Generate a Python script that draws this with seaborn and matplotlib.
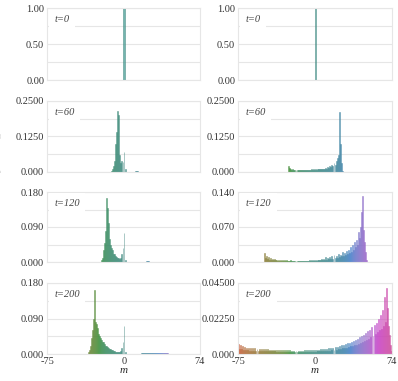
import numpy as np
import pandas as pd
import matplotlib
matplotlib.use("Agg")
import matplotlib.pyplot as plt
import seaborn as sns

sns.set_theme(style="whitegrid")
plt.rcParams['font.family'] = ['Liberation Serif', 'DejaVu Serif']

# ---- data: probability of magnetization m at several times ----
# left column (t=0, 60, 120, 200)
m_l0 = [0]
p_l0 = [1.0]

m_l60 = list(range(-12, 2)) + [11, 12, 13]
p_l60 = [0.005, 0.01, 0.02, 0.04, 0.10, 0.14, 0.215, 0.20, 0.06, 0.03,
         0.04, 0.035, 0.07, 0.01, 0.003, 0.003, 0.003]

m_l120 = list(range(-22, 2)) + [22, 23, 24]
p_l120 = [0.005, 0.01, 0.03, 0.05, 0.08, 0.165, 0.14, 0.10, 0.06, 0.045,
          0.035, 0.03, 0.02, 0.02, 0.015, 0.012, 0.01, 0.01, 0.008, 0.01,
          0.02, 0.035, 0.075, 0.005, 0.003, 0.003, 0.003]

m_l200 = list(range(-35, 2)) + list(range(17, 44))
p_l200 = [0.005, 0.01, 0.02, 0.04, 0.06, 0.09, 0.163, 0.08, 0.075, 0.065,
          0.05, 0.045, 0.04, 0.035, 0.03, 0.03, 0.025, 0.02, 0.02, 0.018,
          0.015, 0.013, 0.012, 0.01, 0.01, 0.008, 0.007, 0.006, 0.005, 0.004,
          0.004, 0.005, 0.008, 0.015, 0.03, 0.07, 0.005,
          0.002, 0.002, 0.002, 0.002, 0.002, 0.002, 0.002, 0.002, 0.002,
          0.002, 0.002, 0.002, 0.002, 0.002, 0.002, 0.002, 0.002, 0.002,
          0.002, 0.002, 0.002, 0.002, 0.002, 0.002, 0.002, 0.002, 0.002]

# right column (t=0, 60, 120, 200)
m_r0 = [0]
p_r0 = [1.0]

m_r60 = list(range(-26, 27))
p_r60 = [0.02, 0.015, 0.01, 0.008, 0.009, 0.007, 0.008, 0.006, 0.008, 0.007,
         0.008, 0.007, 0.008, 0.007, 0.008, 0.007, 0.008, 0.008, 0.008, 0.007,
         0.008, 0.008, 0.009, 0.008, 0.009, 0.008, 0.009, 0.008, 0.009, 0.009,
         0.010, 0.009, 0.011, 0.010, 0.012, 0.010, 0.015, 0.012, 0.018, 0.014,
         0.020, 0.016, 0.025, 0.020, 0.030, 0.025, 0.040, 0.050, 0.060, 0.210,
         0.100, 0.030, 0.005]

m_r120 = list(range(-50, 51))
p_r120 = [0.018, 0.008, 0.012, 0.006, 0.010, 0.005, 0.008, 0.005, 0.007, 0.004,
          0.006, 0.004, 0.005, 0.003, 0.005, 0.003, 0.004, 0.003, 0.004, 0.003,
          0.004, 0.003, 0.004, 0.003, 0.003, 0.003, 0.004, 0.002, 0.003, 0.002,
          0.003, 0.002, 0.003, 0.002, 0.003, 0.002, 0.003, 0.002, 0.003, 0.003,
          0.003, 0.002, 0.003, 0.003, 0.004, 0.003, 0.004, 0.003, 0.004, 0.003,
          0.004, 0.003, 0.005, 0.004, 0.005, 0.004, 0.006, 0.004, 0.007, 0.005,
          0.010, 0.005, 0.008, 0.006, 0.010, 0.006, 0.012, 0.007, 0.014, 0.008,
          0.012, 0.009, 0.016, 0.010, 0.014, 0.012, 0.020, 0.013, 0.018, 0.015,
          0.022, 0.016, 0.025, 0.018, 0.030, 0.020, 0.035, 0.025, 0.040, 0.030,
          0.045, 0.035, 0.060, 0.048, 0.070, 0.100, 0.133, 0.065, 0.040, 0.020,
          0.005]

m_r200 = list(range(-75, 75))
p_r200 = [0.0065, 0.003, 0.0055, 0.003, 0.005, 0.0025, 0.0045, 0.0025, 0.004, 0.0025,
          0.004, 0.002, 0.0038, 0.002, 0.0036, 0.002, 0.0035, 0.002, 0.0034, 0.002,
          0.0033, 0.0018, 0.0032, 0.0018, 0.003, 0.0018, 0.003, 0.0017, 0.0029, 0.0017,
          0.0028, 0.0016, 0.0028, 0.0016, 0.0027, 0.0016, 0.0026, 0.0015, 0.0026, 0.0015,
          0.0025, 0.0015, 0.0025, 0.0014, 0.0024, 0.0014, 0.0024, 0.0014, 0.0023, 0.0013,
          0.0023, 0.0013, 0.0022, 0.0013, 0.0022, 0.0013, 0.0022, 0.0012, 0.0022, 0.0012,
          0.0022, 0.0012, 0.0022, 0.0013, 0.0023, 0.0013, 0.0023, 0.0013, 0.0024, 0.0014,
          0.0024, 0.0014, 0.0025, 0.0015, 0.0026, 0.0015, 0.0027, 0.0016, 0.0028, 0.0017,
          0.0029, 0.0018, 0.003, 0.0019, 0.0032, 0.002, 0.0034, 0.0021, 0.0036, 0.0022,
          0.0038, 0.0024, 0.004, 0.0026, 0.0043, 0.0028, 0.0046, 0.003, 0.005, 0.0032,
          0.0054, 0.0035, 0.0058, 0.0038, 0.0062, 0.0041, 0.0067, 0.0044, 0.0072, 0.0048,
          0.0078, 0.0052, 0.0084, 0.0056, 0.009, 0.006, 0.0097, 0.0065, 0.0105, 0.007,
          0.0113, 0.0076, 0.0122, 0.0082, 0.0132, 0.009, 0.0143, 0.0098, 0.0155, 0.0105,
          0.0168, 0.0115, 0.0182, 0.0125, 0.0198, 0.0138, 0.022, 0.015, 0.0245, 0.016,
          0.028, 0.018, 0.036, 0.02, 0.042, 0.029, 0.018, 0.012, 0.006, 0.002]

times = ["t=0", "t=60", "t=120", "t=200"]
left_data = [(m_l0, p_l0), (m_l60, p_l60), (m_l120, p_l120), (m_l200, p_l200)]
right_data = [(m_r0, p_r0), (m_r60, p_r60), (m_r120, p_r120), (m_r200, p_r200)]

# y ticks and their labels per panel
left_yticks = [[0, 0.5, 1.0], [0, 0.125, 0.25], [0, 0.09, 0.18], [0, 0.09, 0.18]]
left_ylabels = [["0.00", "0.50", "1.00"], ["0.000", "0.1250", "0.2500"],
                ["0.000", "0.090", "0.180"], ["0.000", "0.090", "0.180"]]
right_yticks = [[0, 0.5, 1.0], [0, 0.125, 0.25], [0, 0.07, 0.14], [0, 0.0225, 0.045]]
right_ylabels = [["0.00", "0.50", "1.00"], ["0.000", "0.1250", "0.2500"],
                 ["0.000", "0.070", "0.140"], ["0.000", "0.02250", "0.04500"]]

x_ticks = [-75, 0, 74]
x_ticklabels = ["-75", "0", "74"]

# colour for each magnetization value
all_m = list(range(-75, 75))
pal = sns.husl_palette(170, h=0.06, s=0.8, l=0.6)[:150]
color_of = {m: pal[i] for i, m in enumerate(all_m)}

fig = plt.figure(figsize=(3.98, 3.81), dpi=100)
W, H = 398, 381
col_x = [(47, 153), (238, 154)]
row_y = [(8, 80), (101, 172), (192, 262), (283, 354)]

for c, (data, yt, yl) in enumerate([(left_data, left_yticks, left_ylabels),
                                    (right_data, right_yticks, right_ylabels)]):
    x0, w = col_x[c]
    for r in range(4):
        top, bot = row_y[r]
        ax = fig.add_axes([x0 / W, 1 - bot / H, w / W, (bot - top) / H])
        m, p = data[r]
        df = pd.DataFrame({"m": m, "p": p})
        sns.barplot(data=df, x="m", y="p", hue="m", palette=color_of,
                    native_scale=True, legend=False, saturation=1,
                    width=1.2 if len(m) == 1 else 0.95, alpha=0.75,
                    linewidth=0.4, ax=ax)
        for patch in ax.patches:
            fc = patch.get_facecolor()
            patch.set_edgecolor((fc[0] * 0.8, fc[1] * 0.8, fc[2] * 0.8, 0.9))
        ax.set_xlim(-75.5, 74.5)
        ax.set_ylim(0, yt[r][-1])
        ax.set_yticks(yt[r])
        ax.set_yticklabels(yl[r])
        ax.set_yticks([yt[r][1] / 2, yt[r][1] * 1.5], minor=True)
        ax.grid(True, which="both", axis="y", color="#e6e6e6", linewidth=0.8)
        ax.grid(False, axis="x")
        ax.set_xticks(x_ticks)
        if r == 3:
            ax.set_xticklabels(x_ticklabels)
            ax.set_xlabel("m", fontstyle="italic", fontsize=8, labelpad=0)
        else:
            ax.set_xticklabels([])
            ax.set_xlabel("")
        ax.set_ylabel("")
        ax.tick_params(axis="both", which="both", length=0, pad=2,
                       labelsize=7.5, colors="#333333")
        for s in ax.spines.values():
            s.set_color("#e6e6e6")
            s.set_linewidth(0.8)
        ax.text(0.05, 0.84, times[r], transform=ax.transAxes, fontsize=7.5,
                fontstyle="italic", color="#444444", va="center",
                bbox=dict(boxstyle="square,pad=0.5", fc="white", ec="none"))

fig.text(-0.006, 0.6, "Probability of magnetization", rotation=90,
         ha="center", va="center", fontsize=8, color="#cccccc")

fig.savefig("out.png", dpi=100)
